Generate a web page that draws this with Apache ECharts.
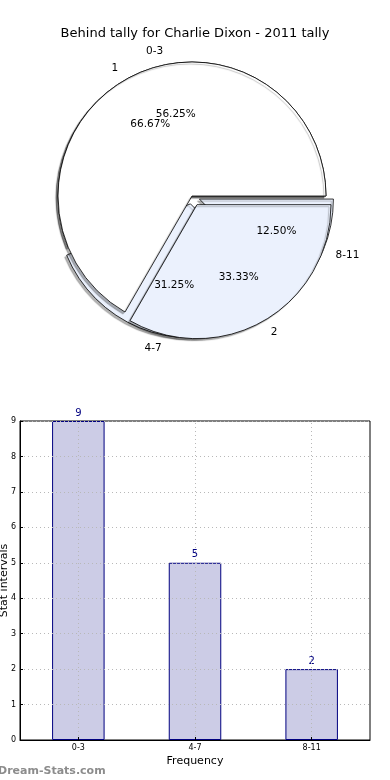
<!DOCTYPE html>
<html><head><meta charset="utf-8">
<script src="https://cdn.jsdelivr.net/npm/echarts@6/dist/echarts.min.js"></script>
<style>html,body{margin:0;padding:0;background:#fff}#c{width:390px;height:780px}</style>
</head><body><div id="c"></div>
<script>
// ---- data ----
const titleText = 'Behind tally for Charlie Dixon - 2011 tally';
const intervalNames = ['0-3', '4-7', '8-11'];
const intervalCounts = [9, 5, 2];
const groupNames = ['1', '2'];
const groupCounts = [2, 1];
const yMin = 0, yMax = 9, yStep = 1;
const watermark = 'Dream-Stats.com';

// ---- styles ----
const FONT = 'DejaVu Sans';
const R = 134, C = [192, 196];
const intervalColors = ['#ffffff', '#ebf1fd', '#ebf1fd'];
const intervalExploded = [false, true, true];
const groupColors = ['#ffffff', '#ebf1fd'];
const groupExploded = [false, true];

function shapeSeries(names, vals, colors, exploded, offset, z) {
  return {
    type: 'pie', center: C, radius: R, startAngle: 0, clockwise: false,
    avoidLabelOverlap: false, selectedMode: 'multiple', selectedOffset: offset,
    silent: true, z: z, emphasis: {disabled: true},
    labelLayout: {hideOverlap: false},
    label: {position: 'outside', color: '#000', fontFamily: FONT, fontSize: 10.5, distanceToLabelLine: 0},
    labelLine: {show: false, length: R * 0.1, length2: 0},
    itemStyle: {borderColor: '#000', borderWidth: 0.8, shadowColor: 'rgba(0,0,0,0.3)', shadowBlur: 1, shadowOffsetX: -2, shadowOffsetY: 2},
    data: names.map((n, i) => ({name: n, value: vals[i], selected: exploded[i], itemStyle: {color: colors[i]}}))
  };
}
function pctSeries(names, vals, exploded, offset) {
  return {
    type: 'pie', center: C, radius: [0.2 * R, R], startAngle: 0, clockwise: false,
    avoidLabelOverlap: false, selectedMode: 'multiple', selectedOffset: offset,
    silent: true, z: 6, emphasis: {disabled: true},
    labelLayout: {hideOverlap: false},
    label: {position: 'inside', color: '#000', fontFamily: FONT, fontSize: 10.5,
      formatter: p => p.percent.toFixed(2) + '%'},
    labelLine: {show: false},
    itemStyle: {color: 'rgba(0,0,0,0)', borderWidth: 0},
    data: names.map((n, i) => ({name: n, value: vals[i], selected: exploded[i]}))
  };
}

const chart = echarts.init(document.getElementById('c'));
chart.setOption({
  animation: false,
  backgroundColor: '#fff',
  textStyle: {fontFamily: FONT},
  title: {text: titleText, left: 'center', top: 22,
    textStyle: {fontSize: 13, fontWeight: 'normal', fontFamily: FONT, color: '#000'}},
  graphic: [{type: 'text', left: -2, top: 766,
    style: {text: watermark, fontSize: 11, fontWeight: 'bold', fontFamily: FONT, fill: '#8c8c8c'}}],
  grid: {left: 20, right: 20, top: 421, bottom: 40, containLabel: false, outerBoundsMode: 'none',
    show: true, borderColor: '#000', borderWidth: 1},
  xAxis: {
    type: 'category', data: intervalNames, z: 5,
    axisLine: {show: true, lineStyle: {color: '#000', width: 1}},
    axisTick: {show: true, inside: true, alignWithLabel: true, length: 3, lineStyle: {color: '#000'}},
    axisLabel: {fontSize: 8, color: '#000', margin: 4, fontFamily: FONT},
    splitLine: {show: false},
    name: 'Frequency', nameLocation: 'middle', nameGap: 16, nameMoveOverlap: false,
    nameTextStyle: {fontSize: 11, color: '#000', fontFamily: FONT}
  },
  yAxis: {
    type: 'value', min: yMin, max: yMax, interval: yStep, z: 5,
    axisLine: {show: true, lineStyle: {color: '#000', width: 1}},
    axisTick: {show: true, inside: true, length: 3, lineStyle: {color: '#000'}},
    axisLabel: {fontSize: 8, color: '#000', margin: 4, fontFamily: FONT},
    splitLine: {show: true, lineStyle: {type: [1, 3], color: '#b8b8b8', width: 1}},
    name: 'Stat intervals', nameLocation: 'middle', nameGap: 10, nameMoveOverlap: false,
    nameTextStyle: {fontSize: 11, color: '#000', fontFamily: FONT}
  },
  series: [
    shapeSeries(intervalNames, intervalCounts, intervalColors, intervalExploded, 8, 2),
    shapeSeries(groupNames, groupCounts, groupColors, groupExploded, 10, 3),
    pctSeries(intervalNames, intervalCounts, intervalExploded, 8),
    pctSeries(groupNames, groupCounts, groupExploded, 10),
    {
      type: 'bar', data: intervalCounts, barWidth: '45%',
      itemStyle: {color: '#ccccE6', borderColor: '#000080', borderWidth: 1},
      label: {show: true, position: 'top', color: '#000080', fontSize: 10, distance: 3, fontFamily: FONT},
      markLine: {silent: true, symbol: 'none', label: {show: false},
        lineStyle: {type: [1, 3], color: '#b8b8b8', width: 1},
        data: intervalNames.map(n => ({xAxis: n}))}
    }
  ]
});
</script></body></html>
